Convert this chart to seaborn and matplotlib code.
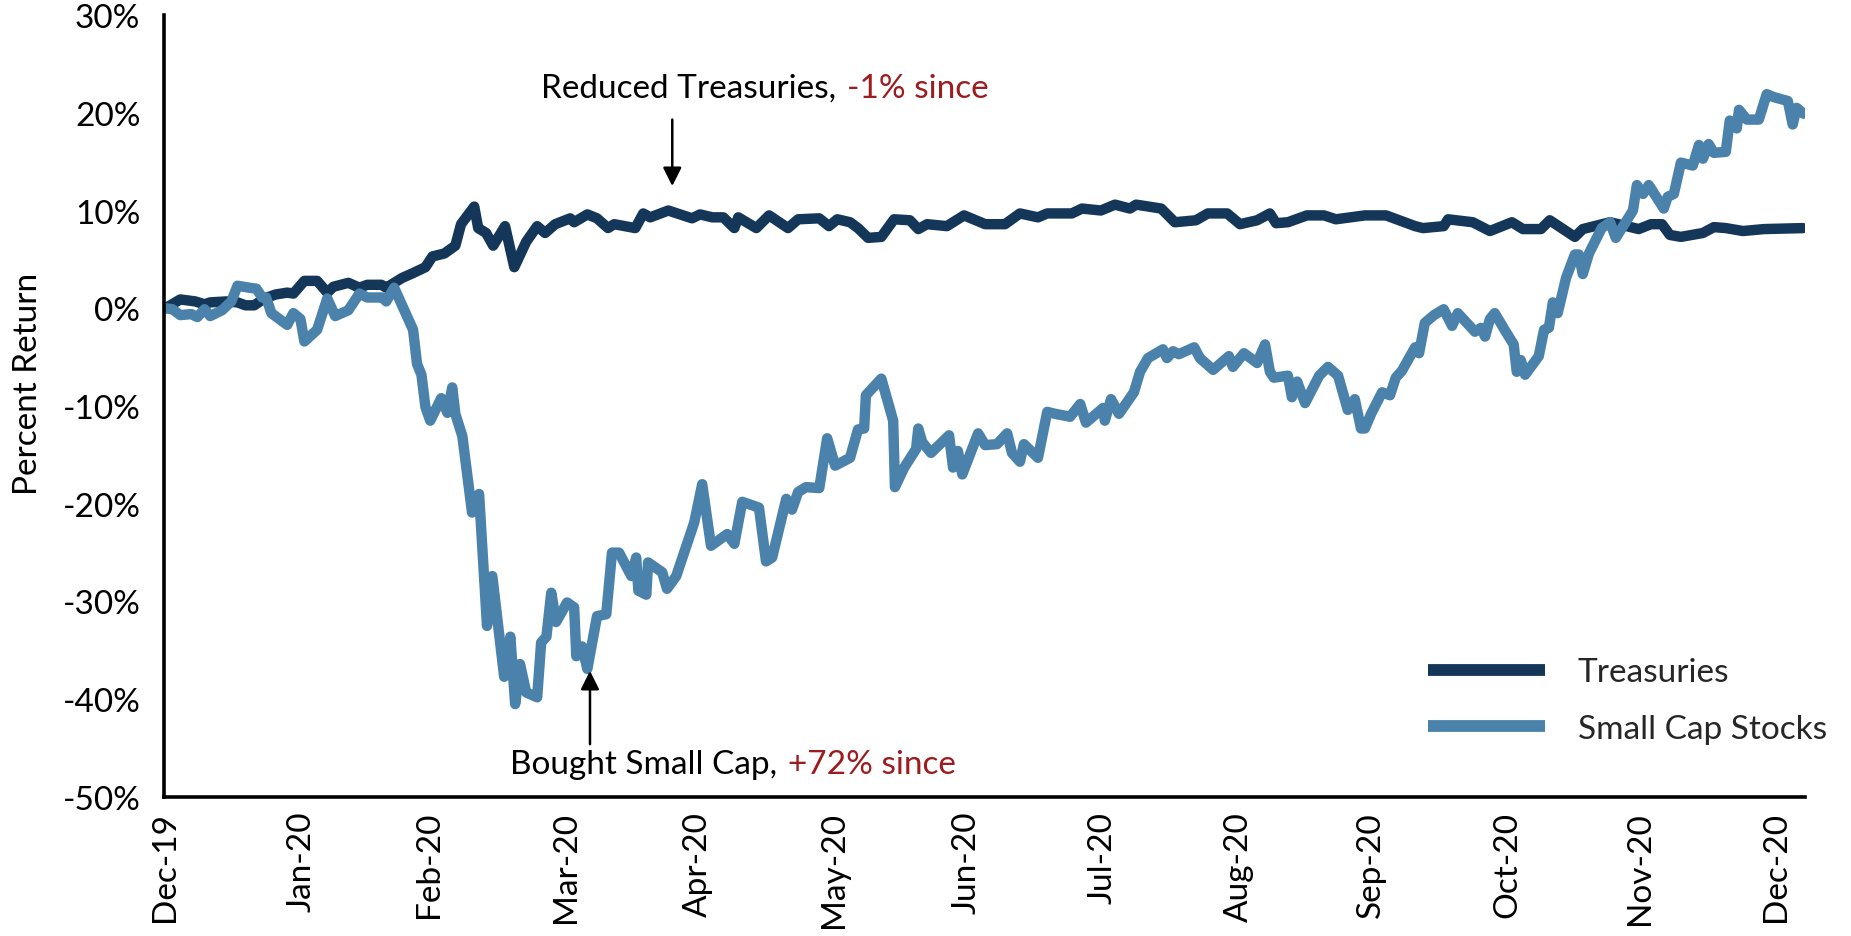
import numpy as np
import pandas as pd
import matplotlib
matplotlib.use("Agg")
import matplotlib.pyplot as plt
import seaborn as sns
from matplotlib.lines import Line2D

# ---------------- data ----------------
start_date = pd.Timestamp("2019-12-31")

series_names = ["Treasuries", "Small Cap Stocks"]

# Treasuries: days since 2019-12-31 and cumulative % return
tsy_days = [0.0, 3.4, 6.8, 8.9, 10.2, 13.9, 16.4, 18.2, 20.2, 22.5,
            25.0, 27.7, 29.1, 31.6, 34.5, 36.8, 38.2, 41.6, 44.1, 45.9,
            49.1, 50.2, 52.0, 53.8, 56.3, 59.1, 60.7, 63.4, 65.9, 67.2,
            70.2, 71.1, 72.9, 74.5, 77.2, 79.3, 82.0, 84.5, 86.3, 88.6,
            92.0, 92.9, 95.9, 98.1, 100.6, 102.0, 106.8, 108.6, 110.2, 114.3,
            116.3, 119.7, 121.5, 124.3, 126.8, 129.3, 130.2, 134.3, 137.2, 141.5,
            143.8, 148.6, 150.8, 152.7, 155.6, 157.4, 159.7, 162.7, 165.6, 169.2,
            171.1, 173.1, 177.6, 181.5, 186.3, 190.8, 194.2, 198.3, 200.4, 206.0,
            208.3, 212.6, 215.8, 219.2, 220.6, 226.3, 229.4, 234.2, 236.9, 241.3,
            244.2, 248.1, 251.0, 252.4, 255.1, 259.4, 263.3, 266.0, 272.6, 277.4,
            284.0, 285.8, 290.5, 291.5, 297.1, 301.0, 306.0, 308.5, 312.6, 314.6,
            320.3, 322.1, 328.3, 332.1, 334.8, 337.6, 340.1, 341.9, 344.4, 349.4,
            351.9, 354.6, 358.5, 363.3, 372.1]
tsy_values = [0.0, 0.9, 0.7, 0.4, 0.6, 0.7, 0.6, 0.3, 0.3, 1.0,
              1.4, 1.6, 1.5, 2.8, 2.8, 1.6, 2.2, 2.6, 2.1, 2.4,
              2.4, 2.1, 2.6, 3.1, 3.6, 4.2, 5.3, 5.6, 6.4, 8.6,
              10.4, 8.2, 7.7, 6.4, 8.4, 4.2, 6.8, 8.4, 7.7, 8.6,
              9.2, 8.8, 9.6, 9.2, 8.2, 8.6, 8.2, 9.7, 9.3, 10.0,
              9.7, 9.2, 9.6, 9.3, 9.3, 8.2, 9.3, 8.2, 9.5, 8.2,
              9.1, 9.2, 8.4, 9.1, 8.8, 8.2, 7.2, 7.3, 9.1, 9.0,
              8.1, 8.6, 8.4, 9.5, 8.6, 8.6, 9.7, 9.3, 9.7, 9.7,
              10.2, 10.0, 10.6, 10.2, 10.6, 10.2, 8.8, 9.0, 9.7, 9.7,
              8.6, 9.0, 9.7, 8.7, 8.8, 9.5, 9.5, 9.1, 9.5, 9.5,
              8.4, 8.2, 8.4, 9.1, 8.8, 7.9, 8.8, 8.1, 8.1, 9.0,
              7.3, 8.1, 8.8, 8.4, 8.1, 8.6, 8.6, 7.5, 7.3, 7.7,
              8.3, 8.2, 7.9, 8.1, 8.2]

# Small cap stocks: days since 2019-12-31 and cumulative % return
sc_days = [0.0, 1.6, 3.4, 5.9, 7.3, 8.9, 10.2, 12.9, 15.0, 16.4,
           19.1, 20.7, 22.0, 22.9, 24.1, 27.7, 29.1, 30.7, 31.6, 34.5,
           36.8, 38.6, 41.6, 44.1, 45.9, 49.3, 50.2, 52.0, 56.3, 57.2,
           58.2, 59.1, 60.2, 62.7, 64.1, 65.2, 65.9, 67.5, 69.7, 71.3,
           73.1, 74.3, 77.0, 78.4, 79.5, 80.6, 82.0, 84.5, 85.4, 86.6,
           87.7, 88.8, 91.3, 92.9, 93.4, 94.7, 95.9, 98.1, 100.2, 101.5,
           103.1, 105.9, 107.0, 107.5, 109.3, 109.7, 112.9, 114.0, 116.1, 120.2,
           122.0, 124.0, 127.7, 129.3, 131.1, 134.9, 136.5, 137.9, 141.1, 142.4,
           143.8, 145.6, 148.6, 150.4, 152.2, 155.6, 157.4, 158.8, 159.2, 162.7,
           165.4, 165.8, 167.9, 170.6, 171.1, 172.0, 174.0, 178.1, 179.0, 180.1,
           181.1, 184.7, 186.3, 189.0, 191.3, 192.4, 194.2, 195.1, 198.3, 200.4,
           202.2, 205.6, 207.9, 209.2, 213.1, 213.5, 214.9, 216.7, 220.1, 221.5,
           223.3, 226.7, 227.6, 229.0, 230.3, 233.8, 235.1, 238.1, 241.7, 242.6,
           245.1, 248.1, 249.9, 251.0, 251.9, 255.1, 256.0, 257.2, 259.0, 262.2,
           264.2, 266.5, 268.7, 270.3, 271.7, 272.6, 274.0, 276.5, 278.3, 279.6,
           281.0, 284.0, 284.9, 286.2, 288.3, 290.5, 292.4, 293.7, 297.6, 299.0,
           299.9, 301.0, 302.1, 304.6, 306.4, 307.1, 308.0, 309.0, 312.1, 313.3,
           314.4, 315.3, 316.4, 318.3, 320.3, 321.2, 322.1, 323.5, 326.4, 328.3,
           329.6, 331.0, 333.5, 334.4, 335.8, 337.1, 340.5, 341.4, 342.8, 344.4,
           347.1, 348.5, 349.4, 350.7, 351.9, 354.6, 355.5, 357.1, 357.6, 359.4,
           362.1, 363.9, 365.5, 368.7, 369.8, 370.7, 372.3]
sc_values = [0.0, -0.1, -0.7, -0.6, -0.9, -0.1, -0.8, -0.2, 0.7, 2.3,
             2.1, 2.0, 1.1, 1.1, -0.5, -1.7, -0.5, -1.1, -3.4, -2.2,
             1.0, -0.8, -0.2, 1.5, 1.1, 1.1, 0.7, 2.1, -2.2, -5.7,
             -6.8, -10.1, -11.5, -9.2, -10.7, -8.1, -10.8, -13.1, -20.9, -19.0,
             -32.5, -27.4, -37.7, -33.6, -40.5, -36.4, -39.3, -39.8, -34.2, -33.6,
             -29.1, -32.1, -30.1, -30.6, -35.6, -34.6, -36.9, -31.5, -31.3, -25.0,
             -25.0, -27.4, -25.5, -28.9, -29.3, -26.0, -27.0, -28.7, -27.4, -21.9,
             -18.0, -24.3, -23.1, -24.1, -19.8, -20.4, -25.9, -25.5, -19.5, -20.6,
             -18.8, -18.3, -18.4, -13.3, -16.1, -15.3, -12.4, -12.3, -8.9, -7.2,
             -11.5, -18.3, -16.3, -14.4, -12.3, -13.7, -14.8, -13.0, -16.3, -14.6,
             -17.0, -12.8, -14.0, -13.9, -12.8, -14.8, -15.7, -13.9, -15.3, -10.6,
             -10.8, -11.1, -9.8, -11.7, -10.2, -11.5, -9.3, -10.8, -8.6, -6.5,
             -5.1, -4.2, -5.1, -4.4, -4.7, -4.0, -5.1, -6.3, -4.9, -6.0,
             -4.6, -5.6, -3.7, -6.5, -7.1, -6.9, -9.1, -7.5, -9.7, -6.9,
             -6.0, -6.9, -10.4, -9.3, -12.3, -12.3, -10.8, -8.6, -8.9, -7.1,
             -6.4, -4.0, -4.6, -1.5, -0.7, -0.1, -1.8, -0.5, -2.4, -2.0,
             -2.9, -1.1, -0.5, -2.4, -3.7, -6.5, -5.3, -6.8, -4.9, -2.2,
             -2.0, 0.6, -0.5, 3.1, 5.5, 5.5, 3.5, 5.6, 8.2, 8.8,
             7.2, 8.2, 10.0, 12.6, 11.7, 12.6, 10.2, 11.4, 11.7, 14.9,
             14.6, 16.7, 15.3, 16.8, 15.9, 16.0, 19.2, 18.4, 20.3, 19.3,
             19.3, 21.9, 21.6, 21.2, 18.8, 20.5, 19.9]

y_ticks = [-50, -40, -30, -20, -10, 0, 10, 20, 30]
y_tick_labels = ["-50%", "-40%", "-30%", "-20%", "-10%", "0%", "10%", "20%", "30%"]
month_labels = ["Dec-19", "Jan-20", "Feb-20", "Mar-20", "Apr-20", "May-20", "Jun-20",
                "Jul-20", "Aug-20", "Sep-20", "Oct-20", "Nov-20", "Dec-20"]

reduced_text = "Reduced Treasuries,"
reduced_red = "-1% since"
bought_text = "Bought Small Cap,"
bought_red = "+72% since"
reduced_day = 115.2      # arrow position (days since start)
bought_day = 96.5

# ---------------- style ----------------
DARK = "#133659"
LIGHT = "#4A82AB"
RED = "#9C1C1F"
FS = 24

sns.set_theme(style="white")
plt.rcParams["font.family"] = ["Lato", "DejaVu Sans"]

W, H = 1851, 937
fig = plt.figure(figsize=(W / 100, H / 100), dpi=100)
ax = fig.add_axes([164 / W, 1 - 798 / H, (1805 - 164) / W, (798 - 16) / H])

df = pd.concat([
    pd.DataFrame({"date": start_date + pd.to_timedelta(tsy_days, unit="D"),
                  "value": tsy_values, "series": series_names[0]}),
    pd.DataFrame({"date": start_date + pd.to_timedelta(sc_days, unit="D"),
                  "value": sc_values, "series": series_names[1]}),
], ignore_index=True)

palette = {series_names[0]: DARK, series_names[1]: LIGHT}
sns.lineplot(data=df, x="date", y="value", hue="series", hue_order=series_names,
             palette=palette, linewidth=7.5, ax=ax, legend=False,
             estimator=None, solid_joinstyle="round", solid_capstyle="round")

# axes
ax.set_xlim(start_date - pd.Timedelta(days=0.3), start_date + pd.Timedelta(days=372.6))
ax.set_ylim(-50, 30)
for s in ["top", "right"]:
    ax.spines[s].set_visible(False)
for s in ["left", "bottom"]:
    ax.spines[s].set_color("black")
    ax.spines[s].set_linewidth(2.6)

ax.set_yticks(y_ticks)
ax.set_yticklabels(y_tick_labels, fontsize=FS, color="black")
ax.tick_params(axis="y", length=0, pad=17)

tick_dates = [pd.Timestamp(2020, 1, 1) + pd.DateOffset(months=i) - pd.Timedelta(days=1)
              for i in range(len(month_labels))]
ax.set_xticks(tick_dates)
ax.set_xticklabels(month_labels, rotation=90, fontsize=FS, color="black")
ax.tick_params(axis="x", length=0, pad=10)

ax.set_xlabel("")
ax.set_ylabel("Percent Return", fontsize=FS, color="black")
ax.yaxis.set_label_coords(-0.074, 0.53)
ax.grid(False)

# legend
handles = [Line2D([], [], color=DARK, lw=8.5, solid_capstyle="butt"),
           Line2D([], [], color=LIGHT, lw=8.5, solid_capstyle="butt")]
fig.legend(handles, series_names, loc="center left", bbox_to_anchor=(1428 / W, 1 - 701.5 / H),
           frameon=False, fontsize=FS, handlelength=3.5, handletextpad=1.0,
           labelspacing=0.8, borderpad=0, borderaxespad=0)

# annotations
arrow_kw = dict(arrowstyle="-|>", color="black", lw=1.8, mutation_scale=28,
                shrinkA=0, shrinkB=0)
ax.annotate("", xy=(start_date + pd.Timedelta(days=reduced_day), 12.5),
            xytext=(start_date + pd.Timedelta(days=reduced_day), 19.3), arrowprops=arrow_kw)
ax.annotate("", xy=(start_date + pd.Timedelta(days=bought_day), -37.1),
            xytext=(start_date + pd.Timedelta(days=bought_day), -44.6), arrowprops=arrow_kw)

t1 = ax.text((541 - 164) / 1641, 1 - (88.5 - 16) / 782, reduced_text, transform=ax.transAxes,
             ha="left", va="center", fontsize=FS, color="black")
ax.annotate(reduced_red, xy=(1, 0.5), xycoords=t1, xytext=(8, 0), textcoords="offset points",
            ha="left", va="center", fontsize=FS, color=RED)

t2 = ax.text((510 - 164) / 1641, 1 - (765 - 16) / 782, bought_text, transform=ax.transAxes,
             ha="left", va="center", fontsize=FS, color="black")
ax.annotate(bought_red, xy=(1, 0.5), xycoords=t2, xytext=(8, 0), textcoords="offset points",
            ha="left", va="center", fontsize=FS, color=RED)

fig.savefig("out.png", dpi=100, facecolor="white")
